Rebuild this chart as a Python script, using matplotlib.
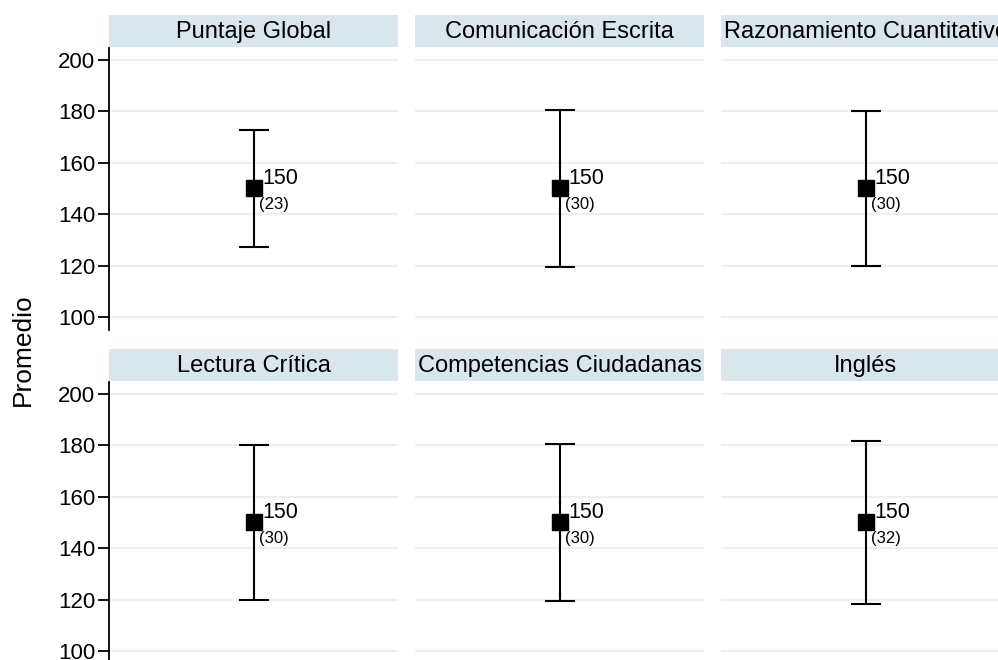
import matplotlib
matplotlib.use("Agg")
from matplotlib import pyplot as plt

plt.rcParams['font.family'] = ['Liberation Sans', 'DejaVu Sans']

titles = ["Puntaje Global", "Comunicación Escrita", "Razonamiento Cuantitativo",
          "Lectura Crítica", "Competencias Ciudadanas", "Inglés"]
means = [150, 150, 150, 150, 150, 150]
sds = [22.8, 30.4, 30.1, 30.0, 30.4, 31.7]
sd_labels = ["(23)", "(30)", "(30)", "(30)", "(30)", "(32)"]
yticks = [100, 120, 140, 160, 180, 200]

W, H = 998, 660
fig = plt.figure(figsize=(W / 100, H / 100), dpi=100)

strip_col = "#d9e6ec"
grid_col = "#eaf1f3"
col_left = [109, 415, 721]
pw = 289
row_top = [15, 349]
strip_h = 32
ax_h = 282

for i in range(6):
    r, c = divmod(i, 3)
    x0 = col_left[c]
    st = row_top[r]
    # strip with the panel title
    sax = fig.add_axes([x0 / W, 1 - (st + strip_h) / H, pw / W, strip_h / H])
    sax.set_facecolor(strip_col)
    sax.set_xticks([])
    sax.set_yticks([])
    for s in sax.spines.values():
        s.set_visible(False)
    sax.text(0.5, 0.47, titles[i], ha='center', va='center', fontsize=17, transform=sax.transAxes)

    top = st + strip_h + 1
    ax = fig.add_axes([x0 / W, 1 - (top + ax_h) / H, pw / W, ax_h / H])
    ax.set_xlim(0, 1)
    ax.set_ylim(94.9, 204.7)
    for s in ['top', 'right', 'bottom']:
        ax.spines[s].set_visible(False)
    ax.set_xticks([])
    ax.set_yticks(yticks)
    ax.grid(axis='y', color=grid_col, linewidth=1.6)
    ax.set_axisbelow(True)
    if c == 0:
        ax.spines['left'].set_linewidth(1.3)
        ax.tick_params(axis='y', length=8, width=1.3, labelsize=16, pad=2)
    else:
        ax.spines['left'].set_visible(False)
        ax.tick_params(axis='y', length=0, labelleft=False)

    ax.errorbar([0.5], [means[i]], yerr=[sds[i]], fmt='s', color='black',
                markersize=12, capsize=11, elinewidth=1.5, capthick=1.5)
    ax.annotate(f"{means[i]}", xy=(0.5, means[i]), xytext=(9, 4), textcoords='offset pixels',
                ha='left', va='baseline', fontsize=15.5)
    ax.annotate(sd_labels[i], xy=(0.5, means[i]), xytext=(5, -9), textcoords='offset pixels',
                ha='left', va='top', fontsize=12)

fig.text(23 / W, 1 - 350 / H, "Promedio", rotation=90, ha='center', va='center', fontsize=19)

fig.savefig("out.png", dpi=100)
